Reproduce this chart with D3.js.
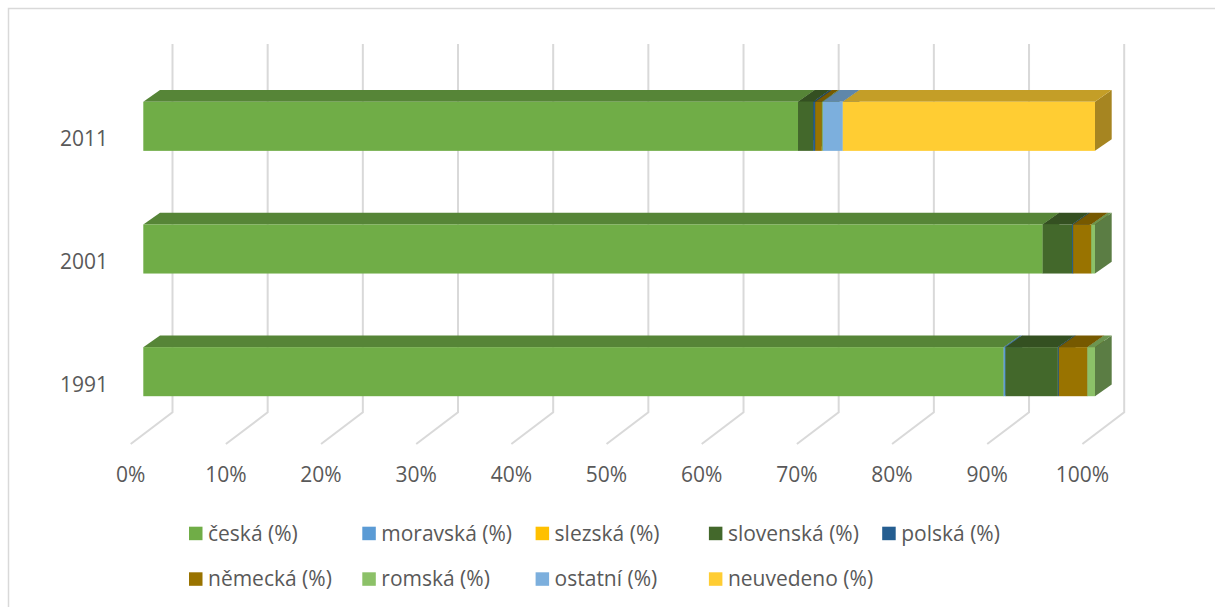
<!DOCTYPE html>
<html>
<head>
<meta charset="utf-8">
<script src="https://cdn.jsdelivr.net/npm/d3@7"></script>
<style>
  body { margin: 0; background: #fff; }
  text { font-family: "Open Sans", sans-serif; fill: #595959; }
</style>
</head>
<body>
<div id="wrapper"></div>
<script>
// data (podíl národností v %, roky odshora dolů)
const years = ["2011", "2001", "1991"];
const seriesNames = ["česká (%)", "moravská (%)", "slezská (%)", "slovenská (%)", "polská (%)",
  "německá (%)", "romská (%)", "ostatní (%)", "neuvedeno (%)"];
const ceska     = [68.8, 94.5, 90.4];
const moravska  = [0.0, 0.0, 0.2];
const slezska   = [0.0, 0.0, 0.0];
const slovenska = [1.6, 3.1, 5.5];
const polska    = [0.2, 0.1, 0.1];
const nemecka   = [0.7, 1.9, 3.0];
const romska    = [0.1, 0.4, 0.8];
const ostatni   = [2.1, 0.0, 0.0];
const neuvedeno = [26.5, 0.0, 0.0];
const colors = ["#70AD47", "#5B9BD5", "#FFC000", "#43682B", "#255E91",
  "#997300", "#8CC168", "#7CAFDD", "#FFCD33"];

const seriesValues = [ceska, moravska, slezska, slovenska, polska, nemecka, romska, ostatni, neuvedeno];

// tabulka pro d3.stack
const table = years.map((y, i) => {
  const row = { year: y };
  seriesNames.forEach((s, j) => row[s] = seriesValues[j][i]);
  return row;
});

const width = 1215, height = 607;
const fontSize = 21;
const depth = { dx: 16.7, dy: 11.7 };     // hloubka sloupce
const wall = { dx: 29.2, dy: 21 };        // posun zadní stěny od čela sloupce
const front = { dx: -12.6, dy: 9 };       // přední hrana podlahy

const svg = d3.select("#wrapper")
  .append("svg")
    .attr("width", width)
    .attr("height", height);

// rámeček grafu
svg.append("rect")
  .attr("x", 8.5).attr("y", 8.5)
  .attr("width", 1300).attr("height", 700)
  .attr("fill", "none")
  .attr("stroke", "#D9D9D9")
  .attr("stroke-width", 1.5);

const x = d3.scaleLinear().domain([0, 1]).range([143.3, 1095]);
const y = d3.scaleBand().domain(years).range([65, 433]).paddingInner(0.6).paddingOuter(0.3);

const stack = d3.stack().keys(seriesNames).offset(d3.stackOffsetExpand);
const layers = stack(table);

// mřížka: zadní stěna + podlaha
const grid = svg.append("g")
  .attr("fill", "none")
  .attr("stroke", "#D9D9D9")
  .attr("stroke-width", 2);
const wallTop = 44, wallBottom = 412.3, floorFront = 444;
x.ticks(10).forEach(t => {
  const bx = x(t) + wall.dx;
  const fx = x(t) + front.dx;
  grid.append("path")
    .attr("d", d3.line()([[bx, wallTop], [bx, wallBottom], [fx, floorFront]]));
});

// popisky osy x
const fmt = d3.format(".0%");
svg.append("g")
  .selectAll("text")
  .data(x.ticks(10))
  .join("text")
    .attr("x", d => x(d) + front.dx)
    .attr("y", 482)
    .attr("text-anchor", "middle")
    .attr("font-size", fontSize)
    .text(fmt);

// popisky osy y
svg.append("g")
  .selectAll("text")
  .data(years)
  .join("text")
    .attr("x", 108)
    .attr("y", d => y(d) + y.bandwidth() / 2 + 12.5 + 7.5)
    .attr("text-anchor", "end")
    .attr("font-size", fontSize)
    .text(d => d);

const shade = (c, k) => {
  const r = d3.rgb(c);
  return d3.rgb(r.r * k, r.g * k, r.b * k).formatHex();
};

// 3D sloupce
const bars = svg.append("g");
layers.forEach((layer, i) => {
  const c = colors[i];
  layer.forEach(d => {
    const x0 = x(d[0]), x1 = x(d[1]);
    if (x1 - x0 <= 0) return;
    const y0 = y(d.data.year), h = y.bandwidth();
    const g = bars.append("g");
    g.append("path")   // bok
      .attr("d", d3.line()([[x1, y0], [x1 + depth.dx, y0 - depth.dy], [x1 + depth.dx, y0 + h - depth.dy], [x1, y0 + h]]))
      .attr("fill", shade(c, 0.65));
    g.append("path")   // vršek
      .attr("d", d3.line()([[x0, y0], [x1, y0], [x1 + depth.dx, y0 - depth.dy], [x0 + depth.dx, y0 - depth.dy]]))
      .attr("fill", shade(c, 0.77));
    g.append("rect")   // čelo
      .attr("x", x0)
      .attr("y", y0)
      .attr("width", x1 - x0)
      .attr("height", h)
      .attr("fill", c);
  });
});

// legenda
const legend = svg.append("g");
seriesNames.forEach((s, i) => {
  const row = i < 5 ? 0 : 1;
  const col = i < 5 ? i : i - 5;
  const lx = 189 + col * 173.3;
  const ly = row === 0 ? 526.7 : 572.3;
  legend.append("rect")
    .attr("x", lx).attr("y", ly)
    .attr("width", 13.5).attr("height", 13.5)
    .attr("fill", colors[i]);
  legend.append("text")
    .attr("x", lx + 19)
    .attr("y", ly + 14)
    .attr("font-size", fontSize)
    .text(s);
});
</script>
</body>
</html>
